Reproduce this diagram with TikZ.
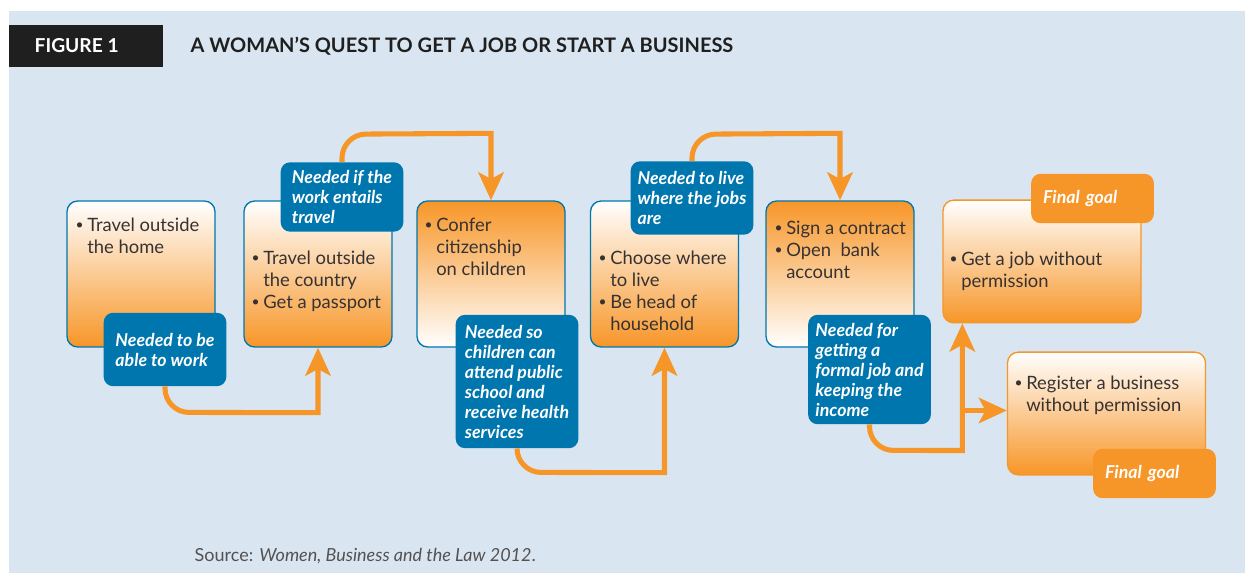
\documentclass[tikz,border=0pt]{standalone}
\usepackage{fontspec}
\setmainfont{Lato}
\usetikzlibrary{arrows.meta,calc}

\definecolor{bgblue}{RGB}{217,230,241}
\definecolor{boxblue}{RGB}{0,118,174}
\definecolor{qorange}{RGB}{247,150,40}
\definecolor{txtgray}{RGB}{55,50,50}

\newcommand{\bl}{\makebox[7.5pt][l]{\hspace{-1.2pt}\raisebox{0.2ex}{\scalebox{0.75}{\textbullet}}}}
\newcommand{\ind}{\hspace*{7.5pt}}

\tikzset{
  stepbox/.style={draw=boxblue, line width=1pt, rounded corners=8pt,
    minimum width=111pt, minimum height=109.5pt},
  downfade/.style={top color=white, bottom color=qorange},
  upfade/.style={top color=qorange, bottom color=white},
  goalbox/.style={draw=qorange, line width=1pt, rounded corners=8pt,
    minimum width=148.5pt, minimum height=92pt, top color=white, bottom color=qorange},
  needbox/.style={fill=boxblue, rounded corners=7pt, minimum width=92pt,
    text=white, align=left, font=\fontsize{13.3}{15}\selectfont\bfseries\itshape},
  goaltag/.style={fill=qorange, rounded corners=7pt, text width=74pt, inner xsep=9pt,
    minimum height=37pt, text=white, align=left, font=\fontsize{13.3}{15}\selectfont\bfseries\itshape},
  bullets/.style={anchor=north west, inner sep=0pt, align=left, text=txtgray,
    font=\fontsize{13.8}{16.5}\selectfont},
  arr/.style={draw=qorange, line width=3.8pt, -{Stealth[length=21pt,width=19pt,inset=5pt]}}
}

\begin{document}
\begin{tikzpicture}[x=0.75pt,y=-0.75pt]
  \useasboundingbox (0,0) rectangle (1245,573);
  \fill[white] (0,0) rectangle (1245,573);
  \fill[bgblue] (9,11) rectangle (1245,573);

  % heading
  \node[fill=black!88, minimum width=115.5pt, minimum height=32pt, anchor=west] (fig) at (9,46) {};
  \node[anchor=west, text=white, font=\fontsize{14.4}{16}\selectfont\bfseries] (figlbl) at (30,46) {FIGURE 1};
  \node[anchor=west, text=black!88, font=\fontsize{15}{17}\selectfont\bfseries] (title) at (186,46)
    {A WOMAN’S QUEST TO GET A JOB OR START A BUSINESS};

  % steps
  \node[stepbox, downfade] (b1) at (141,274) {};
  \node[stepbox, downfade] (b2) at (318,274) {};
  \node[stepbox, upfade]   (b3) at (491,274) {};
  \node[stepbox, downfade] (b4) at (664.5,274) {};
  \node[stepbox, upfade]   (b5) at (840,274) {};
  \node[goalbox] (b6) at (1042,261.5) {};
  \node[goalbox] (b7) at (1106.5,413.5) {};

  \node[bullets] (t1) at (77,218) {\bl Travel outside\\\ind the home};
  \node[bullets] (t2) at (253,251) {\bl Travel outside\\\ind the country\\\bl Get a passport};
  \node[bullets] (t3) at (426,218) {\bl Confer\\\ind citizenship\\\ind on children};
  \node[bullets] (t4) at (600,251) {\bl Choose where\\\ind to live\\\bl Be head of\\\ind household};
  \node[bullets] (t5) at (776,221) {\bl Sign a contract\\\bl Open~ bank\\\ind account};
  \node[bullets] (t6) at (951,252) {\bl Get a job without\\\ind permission};
  \node[bullets] (t7) at (1016,376) {\bl Register a business\\\ind without permission};

  % reasons
  \node[needbox, minimum height=55pt] (l1) at (165,349.5) {Needed to be\\able to work};
  \node[needbox, minimum height=52pt] (l2) at (342,197) {Needed if the\\work entails\\travel};
  \node[needbox, minimum height=100pt] (l3) at (517,381.5) {Needed so\\children can\\attend public\\school and\\receive health\\services};
  \node[needbox, minimum height=55pt] (l4) at (692,198) {Needed to live\\where the jobs\\are};
  \node[needbox, minimum height=82pt] (l5) at (869.5,369.5) {Needed for\\getting a\\formal job and\\keeping the\\income};
  \node[goaltag] (g1) at (1092.5,198.5) {Final goal};
  \node[goaltag] (g2) at (1154.5,473.5) {Final goal};

  % connectors
  \draw[arr] (l1.south) -- ++(0,2) .. controls +(0,13.2) and +(-13.2,0) .. ++(24,24) -- ($(b2.south)+(0,65)$) -- (b2.south);
  \draw[arr] (l2.north) -- ++(0,-4) .. controls +(0,-13.2) and +(-13.2,0) .. ++(24,-24) -- ($(b3.north)+(0,-67)$) -- (b3.north);
  \draw[arr] (l3.south) .. controls +(0,13.2) and +(-13.2,0) .. ++(24,24) -- ($(b4.south)+(0,125)$) -- (b4.south);
  \draw[arr] (l4.north) -- ++(0,-3) .. controls +(0,-13.2) and +(-13.2,0) .. ++(24,-24) -- ($(b5.north)+(0,-67)$) -- (b5.north);
  \coordinate (fork) at ($(b6.south west)+(20,87)$);
  \draw[arr] (l5.south) -- ++(0,2) .. controls +(0,13.2) and +(-13.2,0) .. ++(24,24) -- ($(b6.south west)+(20,127)$) -- ($(b6.south west)+(20,0)$);
  \draw[arr] (fork) -- (fork -| b7.west);

  \node[anchor=west, text=txtgray!85, font=\fontsize{13.5}{15}\selectfont] (src) at (190,556)
    {Source: \textit{Women, Business and the Law 2012}.};
\end{tikzpicture}
\end{document}
